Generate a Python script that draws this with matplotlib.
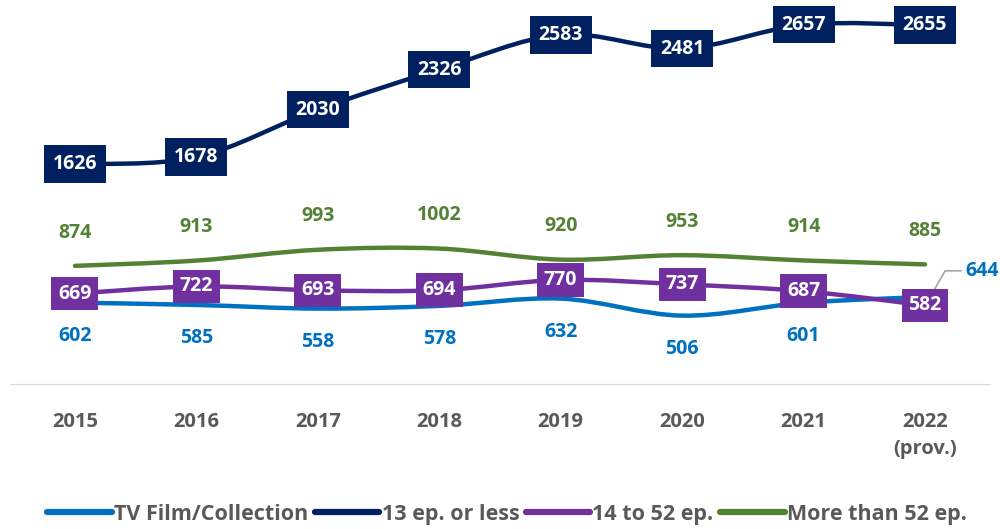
import matplotlib.pyplot as plt
from matplotlib.path import Path
from matplotlib.patches import PathPatch
from matplotlib.lines import Line2D
import numpy as np

years = ['2015', '2016', '2017', '2018', '2019', '2020', '2021', '2022\n(prov.)']
tv_film = [602, 585, 558, 578, 632, 506, 601, 644]
ep13 = [1626, 1678, 2030, 2326, 2583, 2481, 2657, 2655]
ep14_52 = [669, 722, 693, 694, 770, 737, 687, 582]
ep52 = [874, 913, 993, 1002, 920, 953, 914, 885]

c_tv = '#0070C0'
c_13 = '#002060'
c_14 = '#7030A0'
c_52 = '#548235'
grey = '#595959'

plt.rcParams['font.family'] = ['Open Sans', 'DejaVu Sans']

fig = plt.figure(figsize=(10, 5.29), dpi=100)
ax = fig.add_axes([0.01, 0.274, 0.98, 0.726])
x = np.arange(len(years))


def smooth(ax, xs, ys, color, lw=3.2):
    # excel-like smoothed line via cubic bezier segments
    p = np.column_stack([xs, ys]).astype(float)
    verts = [p[0]]
    codes = [Path.MOVETO]
    n = len(p)
    for i in range(n - 1):
        p0 = p[i - 1] if i > 0 else p[i]
        p3 = p[i + 2] if i + 2 < n else p[i + 1]
        c1 = p[i] + (p[i + 1] - p0) / 6
        c2 = p[i + 1] - (p3 - p[i]) / 6
        verts += [c1, c2, p[i + 1]]
        codes += [Path.CURVE4] * 3
    ax.add_patch(PathPatch(Path(verts, codes), fill=False, edgecolor=color,
                           lw=lw, capstyle='round', zorder=2))


smooth(ax, x, ep52, c_52)
smooth(ax, x, tv_film, c_tv)
smooth(ax, x, ep14_52, c_14)
smooth(ax, x, ep13, c_13)

fs = 14
for i in range(len(x)):
    ax.annotate(str(ep52[i]), (x[i], ep52[i]), xytext=(0, 24), textcoords='offset points',
                ha='center', va='center', fontsize=fs, fontweight='bold', color=c_52)
    if i < len(x) - 1:
        ax.annotate(str(tv_film[i]), (x[i], tv_film[i]), xytext=(0, -24), textcoords='offset points',
                    ha='center', va='center', fontsize=fs, fontweight='bold', color=c_tv)
    ax.text(x[i], ep14_52[i], str(ep14_52[i]), ha='center', va='center', fontsize=fs,
            fontweight='bold', color='white', zorder=5,
            bbox=dict(boxstyle='square,pad=0.35', fc=c_14, ec='none'))
    ax.text(x[i], ep13[i], str(ep13[i]), ha='center', va='center', fontsize=fs,
            fontweight='bold', color='white', zorder=5,
            bbox=dict(boxstyle='square,pad=0.45', fc=c_13, ec='none'))

ax.annotate(str(tv_film[-1]), (x[-1] + 0.08, tv_film[-1] + 60), xytext=(34, 13),
            textcoords='offset points', ha='center', va='center', fontsize=fs,
            fontweight='bold', color=c_tv,
            arrowprops=dict(arrowstyle='-', color='#A6A6A6', lw=1.2, shrinkA=1, shrinkB=0,
                            connectionstyle='angle,angleA=0,angleB=60,rad=0'))

ax.set_xlim(-0.535, 7.535)
ax.set_ylim(0, 2840)
ax.set_yticks([])
ax.set_xticks(x)
ax.set_xticklabels(years, fontsize=14.5, fontweight='bold', color=grey, va='top', linespacing=1.45)
ax.tick_params(axis='x', length=0, pad=20)
for s in ['top', 'right', 'left']:
    ax.spines[s].set_visible(False)
ax.spines['bottom'].set_color('#D9D9D9')

handles = [Line2D([], [], color=c, lw=4.5, solid_capstyle='round') for c in [c_tv, c_13, c_14, c_52]]
labels = ['TV Film/Collection', '13 ep. or less', '14 to 52 ep.', 'More than 52 ep.']
fig.legend(handles, labels, loc='center', bbox_to_anchor=(0.507, 0.028), ncol=4, frameon=False,
           handlelength=3.0, handletextpad=0.1, columnspacing=0.3,
           prop=dict(family=['Open Sans', 'DejaVu Sans'], weight='bold', size=15.5),
           labelcolor=grey)

fig.savefig('out.png', dpi=100)
